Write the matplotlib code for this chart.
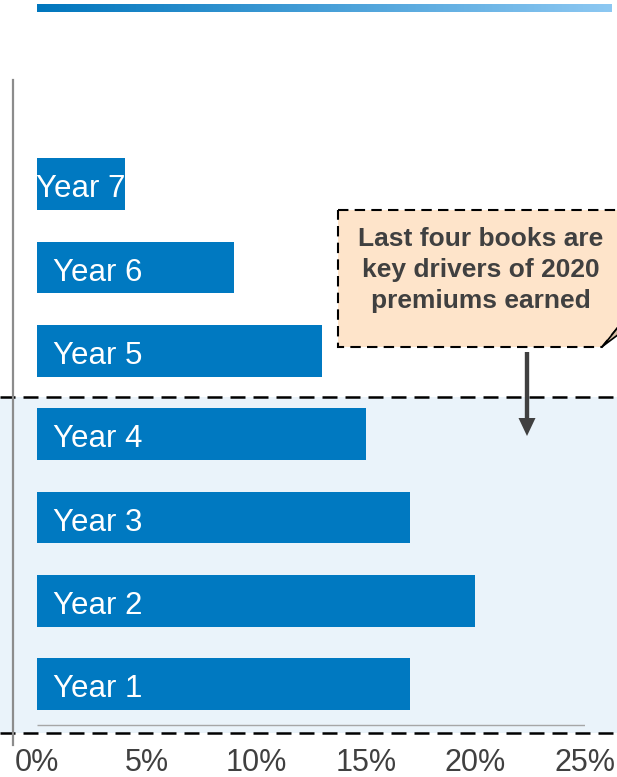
import matplotlib
matplotlib.use("Agg")
import matplotlib.pyplot as plt
import matplotlib.transforms as mtransforms
from matplotlib.colors import LinearSegmentedColormap
from matplotlib.patches import Polygon, Rectangle, FancyArrow
import numpy as np

plt.rcParams["font.family"] = ["Liberation Sans", "DejaVu Sans"]

YEARS = ["Year 1", "Year 2", "Year 3", "Year 4", "Year 5", "Year 6", "Year 7"]
SHARE_PCT = [17, 20, 17, 15, 13, 9, 4]
X_TICKS = [0, 5, 10, 15, 20, 25]
X_TICK_LABELS = ["0%", "5%", "10%", "15%", "20%", "25%"]
CALLOUT = "Last four books are\nkey drivers of 2020\npremiums earned"

W, H = 617, 777
BLUE = "#0079C1"
DARK = "#404040"
SHADE = "#EAF3FA"


def fig_frac(x, y):
    # pixel position measured from the top-left corner -> figure fraction
    return x / W, 1 - y / H


fig = plt.figure(figsize=(W / 100, H / 100), dpi=100)

# gradient strip across the top
strip = fig.add_axes([37 / W, 1 - 12.5 / H, (612 - 37) / W, 8.5 / H])
cmap = LinearSegmentedColormap.from_list("strip", ["#0076BD", "#8DC8F2"])
strip.imshow(np.linspace(0, 1, 256)[None, :], aspect="auto", cmap=cmap)
strip.axis("off")

ax = fig.add_axes([13 / W, 1 - 745 / H, (585 - 13) / W, (745 - 80) / H])
ax.set_facecolor("none")
ax.set_xlim(-1.095, 25)
ax.set_ylim(-0.73, 7.25)

y = np.arange(len(YEARS))
ax.barh(y, SHARE_PCT, height=0.62, color=BLUE, zorder=3)

for yi, val, name in zip(y, SHARE_PCT, YEARS):
    if val < 6:
        ax.text(val / 2, yi - 0.02, name, color="white", fontsize=22.5,
                ha="center", va="center_baseline", zorder=4)
    else:
        ax.text(0.73, yi - 0.02, name, color="white", fontsize=22.5,
                ha="left", va="center_baseline", zorder=4)

# thin baseline under the bars
ax.hlines(-0.49, 0, 25, color="#A6A6A6", lw=1, zorder=2)

# shaded band for the four most recent books
blend = mtransforms.blended_transform_factory(fig.transFigure, ax.transData)
band_lo, band_hi = -0.59, 3.45
ax.add_patch(Rectangle((0, band_lo), 1, band_hi - band_lo, transform=blend,
                       facecolor=SHADE, edgecolor="none", zorder=0, clip_on=False))
for yb in (band_lo, band_hi):
    ax.plot([0, 1], [yb, yb], transform=blend, color="black", lw=1.8,
            dashes=(6, 3.2), zorder=2, clip_on=False)

for side in ("top", "right", "bottom"):
    ax.spines[side].set_visible(False)
ax.spines["left"].set_color("#8C8C8C")
ax.spines["left"].set_linewidth(1.6)
ax.spines["left"].set_zorder(5)
ax.set_yticks([])
ax.set_xticks(X_TICKS)
ax.set_xticklabels(X_TICK_LABELS, fontsize=22, color=DARK)
ax.tick_params(axis="x", length=0, pad=2.5)

# callout note with a folded corner
note = [fig_frac(338, 210), fig_frac(620, 210), fig_frac(620, 325),
        fig_frac(602, 347), fig_frac(338, 347)]
fig.patches.append(Polygon(note, closed=True, transform=fig.transFigure,
                           facecolor="#FEE4CA", edgecolor="black", lw=1.5,
                           linestyle=(0, (5, 3)), zorder=6))
fold = [fig_frac(603, 346), fig_frac(619, 326), fig_frac(619, 334)]
fig.patches.append(Polygon(fold, closed=True, transform=fig.transFigure,
                           facecolor="#D8BEA5", edgecolor="black", lw=1.2, zorder=7))
tx, ty = fig_frac(481, 270)
fig.text(tx, ty, CALLOUT, ha="center", va="center", fontsize=19,
         fontweight="bold", color=DARK, linespacing=1.38, zorder=8)

# arrow from the note down into the band
x0, y0 = fig_frac(527, 352)
x1, y1 = fig_frac(527, 436)
fig.patches.append(FancyArrow(
    x0, y0, 0, y1 - y0, width=5.5 / H, head_width=17 / W, head_length=18 / H,
    length_includes_head=True, transform=fig.transFigure,
    facecolor=DARK, edgecolor="none", zorder=8))

fig.savefig("out.png", dpi=100)
